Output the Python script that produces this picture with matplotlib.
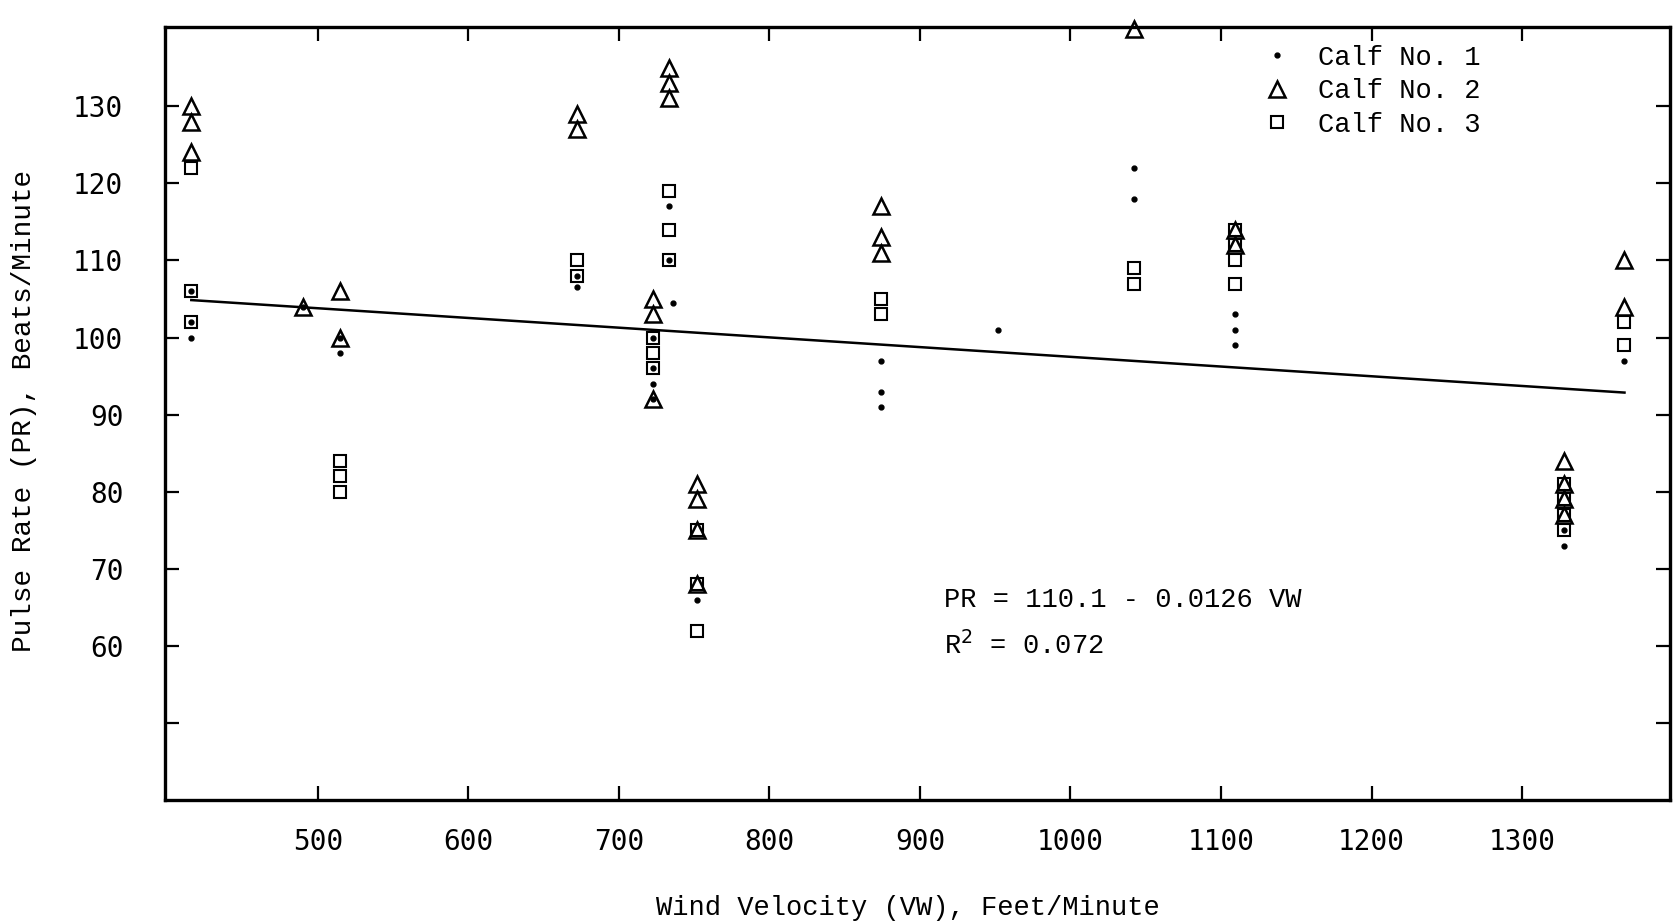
import matplotlib
matplotlib.use("Agg")
import matplotlib.pyplot as plt

# Calf No. 1 (dots)
calf1_vw = [416, 416, 416, 490, 515, 515, 672, 672, 733, 733, 736, 723, 723, 723, 723,
            752, 874, 874, 874, 952, 1042, 1042, 1109, 1109, 1109, 1328, 1328, 1368]
calf1_pr = [106, 102, 100, 104, 100, 98, 108, 106.5, 117, 110, 104.5, 100, 96, 94, 92,
            66, 97, 93, 91, 101, 122, 118, 103, 101, 99, 75, 73, 97]

# Calf No. 2 (triangles)
calf2_vw = [416, 416, 416, 490, 515, 515, 672, 672, 733, 733, 733, 723, 723, 723,
            752, 752, 752, 752, 874, 874, 874, 1042, 1109, 1109,
            1328, 1328, 1328, 1328, 1368, 1368]
calf2_pr = [130, 128, 124, 104, 106, 100, 129, 127, 135, 133, 131, 105, 103, 92,
            81, 79, 75, 68, 117, 113, 111, 140, 114, 112,
            84, 81, 79, 77, 110, 104]

# Calf No. 3 (squares)
calf3_vw = [416, 416, 416, 515, 515, 515, 672, 672, 733, 733, 733, 723, 723, 723,
            752, 752, 752, 874, 874, 1042, 1042, 1109, 1109, 1109, 1109,
            1328, 1328, 1328, 1328, 1368, 1368]
calf3_pr = [122, 106, 102, 84, 82, 80, 110, 108, 119, 114, 110, 100, 98, 96,
            75, 68, 62, 105, 103, 109, 107, 114, 112, 110, 107,
            81, 79, 77, 75, 102, 99]

# regression: PR = 110.1 - 0.0126 VW
intercept = 110.1
slope = -0.0126

x_ticks = [500, 600, 700, 800, 900, 1000, 1100, 1200, 1300]
y_ticks = [50, 60, 70, 80, 90, 100, 110, 120, 130]
y_tick_labels = ["", "60", "70", "80", "90", "100", "110", "120", "130"]

mono = "Liberation Mono"
fs = 19.5

fig = plt.figure(figsize=(16.73, 9.23), dpi=100)
ax = fig.add_axes([0.0986, 0.133, 0.8994, 0.838])

ax.plot(calf1_vw, calf1_pr, linestyle="none", marker="o", ms=3.5,
        color="black", label="Calf No. 1", clip_on=False)
ax.plot(calf2_vw, calf2_pr, linestyle="none", marker="^", ms=11.5, mfc="none",
        mec="black", mew=1.8, label="Calf No. 2", clip_on=False)
ax.plot(calf3_vw, calf3_pr, linestyle="none", marker="s", ms=9, mfc="none",
        mec="black", mew=1.5, label="Calf No. 3", clip_on=False)

all_vw = calf1_vw + calf2_vw + calf3_vw
x0, x1 = min(all_vw), max(all_vw)
ax.plot([x0, x1], [intercept + slope * x0, intercept + slope * x1],
        color="black", lw=1.8)

ax.text(916, 66, "PR = 110.1 - 0.0126 VW", fontsize=fs, family=mono,
        va="center")
ax.text(916, 60, "R$^2$ = 0.072", fontsize=fs, family=mono, va="center",
        math_fontfamily="dejavusans")

ax.set_xlim(398.5, 1398)
ax.set_ylim(40, 140.3)

ax.set_xticks(x_ticks)
ax.set_xticklabels([str(t) for t in x_ticks], family="DejaVu Sans Mono",
                   fontsize=20)
ax.set_yticks(y_ticks)
ax.set_yticklabels(y_tick_labels, family="DejaVu Sans Mono", fontsize=20)

ax.tick_params(axis="both", direction="in", top=True, right=True,
               length=10, width=1.6)
ax.tick_params(axis="x", pad=20)
ax.tick_params(axis="y", pad=30)

for sp in ax.spines.values():
    sp.set_linewidth(2.4)

ax.set_xlabel("Wind Velocity (VW), Feet/Minute", fontsize=fs, family=mono)
ax.set_ylabel("Pulse Rate (PR), Beats/Minute", fontsize=20, family=mono)
ax.xaxis.set_label_coords(0.494, -0.122)
ax.yaxis.set_label_coords(-0.085, 0.503)

ax.legend(loc="upper left", bbox_to_anchor=(0.732, 0.977), frameon=False,
          prop={"family": mono, "size": fs}, handlelength=0.8,
          handletextpad=1.1, labelspacing=0.28, borderaxespad=0,
          borderpad=0)

fig.savefig("out.png", dpi=100, facecolor="white")
